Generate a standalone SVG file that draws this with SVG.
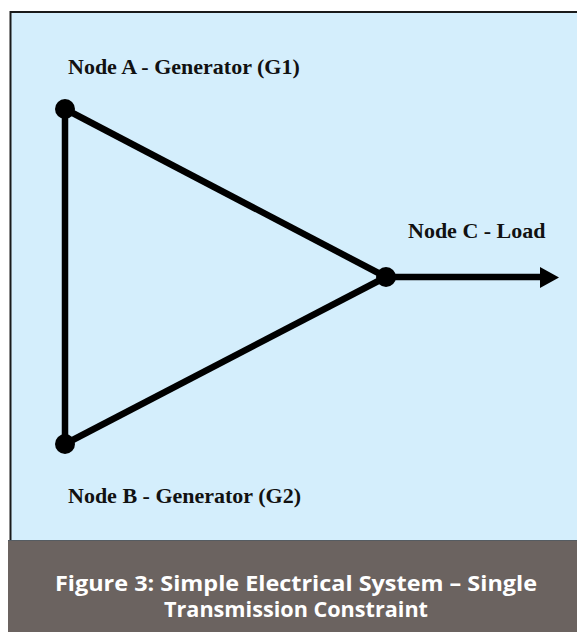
<svg xmlns="http://www.w3.org/2000/svg" width="577" height="632" viewBox="0 0 577 632">
<defs>
<style>
.lbl{font-family:"Liberation Serif","Times New Roman",serif;font-weight:bold;font-size:22px;fill:#111}
.cap{font-family:"Open Sans","Lato",sans-serif;font-weight:bold;font-size:21px;fill:#ffffff;text-anchor:middle}
.edge{stroke:#000;stroke-width:6.5;fill:none}
</style>
</defs>
<rect x="0" y="0" width="577" height="632" fill="#ffffff"/>
<rect x="10.5" y="12" width="570" height="530" fill="#d4eefc" stroke="#1a1a1a" stroke-width="2"/>
<rect x="8" y="540" width="569" height="92" fill="#6b6360"/>
<line x1="8" y1="540.5" x2="577" y2="540.5" stroke="#555c62" stroke-width="1"/>
<g id="connectors">
<line class="edge" x1="65" y1="109" x2="65" y2="444"/>
<line class="edge" x1="65" y1="109" x2="386" y2="277"/>
<line class="edge" x1="65" y1="444" x2="386" y2="277"/>
<line class="edge" x1="386" y1="277" x2="541" y2="277" stroke-width="7.5"/>
<path d="M540,267 L559,277.5 L540,288 Z" fill="#000"/>
</g>
<g id="nodeA">
<circle cx="65" cy="109" r="10" fill="#000"/>
<text class="lbl" x="68" y="74">Node A - Generator (G1)</text>
</g>
<g id="nodeB">
<circle cx="65" cy="444" r="10" fill="#000"/>
<text class="lbl" x="68" y="503">Node B - Generator (G2)</text>
</g>
<g id="nodeC">
<circle cx="386" cy="277" r="10" fill="#000"/>
<text class="lbl" x="408" y="238">Node C - Load</text>
</g>
<g id="caption">
<text class="cap" x="296" y="591" textLength="482" lengthAdjust="spacingAndGlyphs">Figure 3: Simple Electrical System – Single</text>
<text class="cap" x="296" y="617" textLength="264" lengthAdjust="spacingAndGlyphs">Transmission Constraint</text>
</g>
</svg>
